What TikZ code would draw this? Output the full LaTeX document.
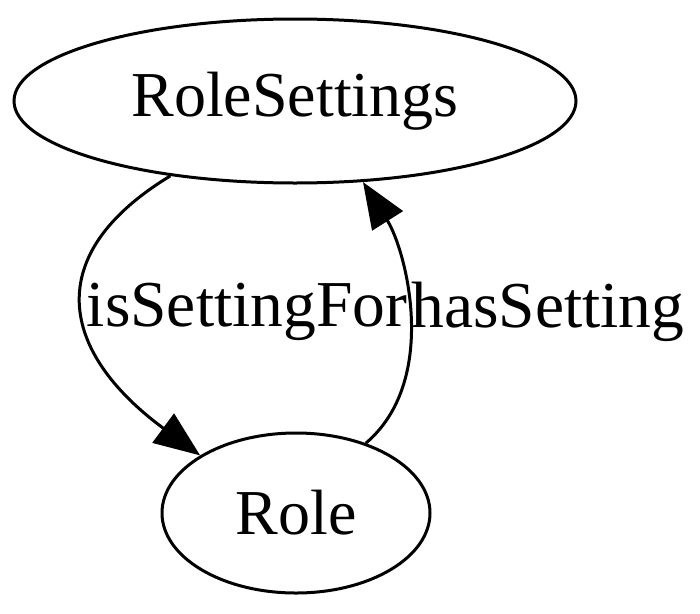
\documentclass[tikz,border=0pt]{standalone}
\usepackage{fontspec}
\setmainfont{Liberation Serif}
\usetikzlibrary{shapes.geometric,arrows.meta}
\begin{document}
\begin{tikzpicture}[x=1pt,y=-1pt,
  ell/.style={draw,ellipse,line width=3pt,inner sep=0pt,font=\fontsize{64}{64}\selectfont},
  edge/.style={line width=3pt,-{Triangle[length=46pt,width=36pt]}},
  lbl/.style={font=\fontsize{65.5}{66}\selectfont,inner sep=0pt}]
\useasboundingbox (0,0) rectangle (700,613);
\node[ell,minimum width=562pt,minimum height=164pt] (rs) at (295,101) {RoleSettings};
\node[ell,minimum width=268pt,minimum height=160pt] (r) at (296,513) {Role};
\draw[edge] (rs.-149) .. controls (40,255) and (60,352) .. (r.149);
\draw[edge] (r.45) .. controls (440,380) and (406,250) .. (rs.-50);
\node[lbl] (l1) at (247,312) {isSettingFor};
\node[lbl] (l2) at (548,312) {hasSetting};
\end{tikzpicture}
\end{document}
